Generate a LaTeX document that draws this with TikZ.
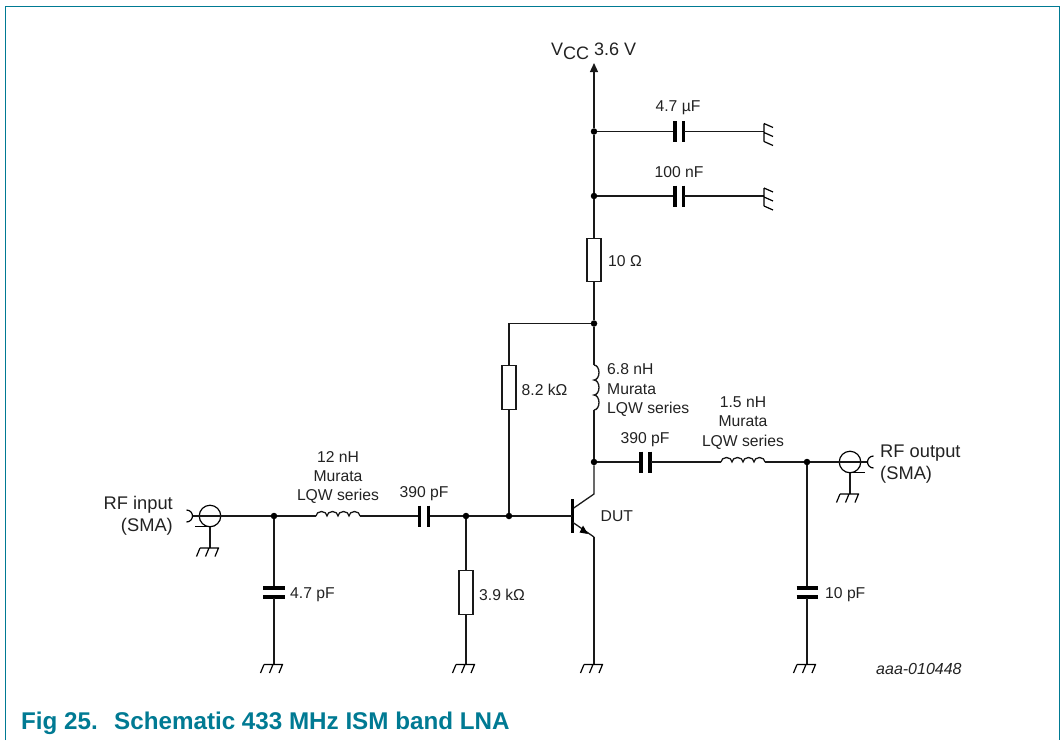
\documentclass[tikz,border=0pt]{standalone}
\usepackage{fontspec}
\setmainfont{Liberation Sans}
\usetikzlibrary{arrows.meta}
\definecolor{frameblue}{HTML}{007A93}
\definecolor{captionblue}{HTML}{007A93}
\definecolor{txt}{HTML}{222222}
\begin{document}
\begin{tikzpicture}[x=1pt,y=-1pt,
  wire/.style={line width=1.3pt,black!90},
  plate/.style={line width=3.6pt,black,line cap=butt},
  res/.style={draw=black!90,line width=1.05pt,fill=white,minimum width=14pt,minimum height=43.5pt,inner sep=0pt,outer sep=0pt},
  junc/.style={circle,fill=black,inner sep=0pt,minimum size=6.5pt,outer sep=0pt},
  lbl/.style={font=\fontsize{15.7}{19.3}\selectfont,text=txt,inner sep=0pt},
  big/.style={font=\fontsize{18.3}{22}\selectfont,text=txt,inner sep=0pt},
  gndl/.pic={\draw[line width=1.2pt] (-10,0)--(9,0) (-10,0)--(-13.5,8.5) (-1,0)--(-4.5,8.5) (8.5,0)--(5,8.5);},
]
\useasboundingbox (0,0) rectangle (1061,740);
\draw[frameblue,line width=1.3pt] (5.5,740)--(5.5,6.5)--(1059.5,6.5)--(1059.5,740);

% junctions
\node[junc] (j1) at (594,131.5) {};
\node[junc] (j2) at (594,196) {};
\node[junc] (j3) at (594,323.5) {};
\node[junc] (j4) at (594,462) {};
\node[junc] (j5) at (509,516) {};
\node[junc] (j6) at (466,516) {};
\node[junc] (j7) at (274,516) {};
\node[junc] (j8) at (807,462) {};

% VCC
\coordinate (vcc) at (594,63);
\draw[wire,-{Triangle[length=9pt,width=8pt]}] (j1) -- (vcc);
\node[big,anchor=base west,font=\fontsize{18}{22}\selectfont] (vl) at (551,55.5) {V\raisebox{-4pt}{CC} 3.6 V};

% decoupling caps
\coordinate (g1) at (764,131.5);
\coordinate (g2) at (764,196);
\foreach \n/\y/\g in {j1/131.5/g1,j2/196/g2}{
  \draw[wire] (\n) -- (674,\y);
  \draw[plate] (675,\y-10.5) -- (675,\y+10.5);
  \draw[plate] (683.5,\y-10.5) -- (683.5,\y+10.5);
  \draw[wire] (684,\y) -- (\g);
  \draw[line width=1.2pt] (764,\y-8) -- (764,\y+10) (764,\y-8) -- (773,\y-4) (764,\y+1) -- (773,\y+5) (764,\y+10) -- (773,\y+14);
}
\node[lbl] (c47u) at (678,108) {4.7 µF};
\node[lbl] (c100n) at (679,172) {100 nF};

% 10 ohm
\node[res] (r10) at (594,260) {};
\node[lbl,anchor=west] (r10l) at (608,261) {10 Ω};
\draw[wire] (j1) -- (j2);
\draw[wire] (j2) -- (r10);
\draw[wire] (r10) -- (j3);

% 8.2k
\node[res] (r82) at (509,387.5) {};
\node[lbl,anchor=west] (r82l) at (521.5,389.5) {8.2 kΩ};
\draw[wire] (j3) -- (509,323.5) -- (r82);
\draw[wire] (r82) -- (j5);

% L 6.8nH
\coordinate (l1a) at (594,365);
\coordinate (l1b) at (594,410);
\draw[wire] (j3) -- (l1a);
\draw[wire] (l1a) arc (-90:90:5 and 7.5) arc (-90:90:5 and 7.5) arc (-90:90:5 and 7.5);
\draw[wire] (l1b) -- (j4);
\node[lbl,anchor=west,align=left] (l1l) at (607,390) {6.8 nH\\Murata\\LQW series};

% Transistor
\coordinate (base) at (572,516);
\coordinate (cc) at (594,494);
\coordinate (ee) at (594,537);
\coordinate (gt) at (594,664);
\draw[wire] (j4) -- (cc) -- (573,508.5);
\draw[line width=2.6pt] (572.3,499) -- (572.3,533);
\draw[wire] (573,522.5) -- (ee);
\fill (588,534) -- (583,525.5) -- (579.5,532.5) -- cycle;
\draw[wire] (ee) -- (gt);
\draw[wire] (j5) -- (base);
\node[lbl,anchor=west] (dut) at (600.5,516.5) {DUT};

% output
\draw[wire] (j4) -- (639,462);
\draw[plate] (641,451.5) -- (641,472.5);
\draw[plate] (650,451.5) -- (650,472.5);
\node[lbl] (c390o) at (645,440) {390 pF};
\draw[wire] (651,462) -- (721,462);
\draw[wire] (721,462) arc (180:360:5.5 and 4.5) arc (180:360:5.5 and 4.5) arc (180:360:5.5 and 4.5) arc (180:360:5.5 and 4.5);
\draw[wire] (765,462) -- (j8);
\node[lbl,align=center] (l3l) at (743,423) {1.5 nH\\Murata\\LQW series};
\node[draw,circle,line width=1.2pt,minimum size=21.5pt,inner sep=0pt] (so) at (850,462) {};
\coordinate (so1) at (868,462);
\draw[wire] (j8) -- (so1);
\draw[line width=1.2pt] (873.5,456) arc (-90:-270:6);
\draw[line width=1.2pt] (850,472.5) -- (865,472.5);
\draw[wire] (850,472.5) -- (850,494);
\pic at (850,494) {gndl};
\node[big,anchor=west,align=left] (ol) at (880,464) {RF output\\(SMA)};

% 10 pF
\coordinate (c10a) at (807,588);
\draw[wire] (j8) -- (c10a);
\draw[plate] (796.5,588) -- (818,588);
\draw[plate] (796.5,597) -- (818,597);
\draw[wire] (807,598) -- (807,664);
\pic at (807,664.5) {gndl};
\node[lbl,anchor=west] (c10l) at (825,594.5) {10 pF};

% base network
\draw[wire] (j6) -- (j5);
\draw[wire] (429,516) -- (j6);
\draw[plate] (419.5,505.5) -- (419.5,526.5);
\draw[plate] (428.5,505.5) -- (428.5,526.5);
\node[lbl] (c390i) at (424,493.5) {390 pF};
\draw[wire] (j7) -- (316,516);
\draw[wire] (316,516) arc (180:360:5.5 and 4.5) arc (180:360:5.5 and 4.5) arc (180:360:5.5 and 4.5) arc (180:360:5.5 and 4.5);
\draw[wire] (360,516) -- (418,516);
\node[lbl,align=center] (l2l) at (338,477.5) {12 nH\\Murata\\LQW series};

% 3.9k
\node[res] (r39) at (466,592.5) {};
\node[lbl,anchor=west] (r39l) at (479,594.5) {3.9 kΩ};
\draw[wire] (j6) -- (r39);
\draw[wire] (r39) -- (466,664);
\pic at (466,664.5) {gndl};

% 4.7pF
\draw[wire] (j7) -- (274,588);
\draw[plate] (263,588) -- (285,588);
\draw[plate] (263,597) -- (285,597);
\draw[wire] (274,598) -- (274,664);
\pic at (274,664.5) {gndl};
\node[lbl,anchor=west] (c47p) at (290,594.5) {4.7 pF};

% transistor ground
\pic at (594,664.5) {gndl};

% input
\node[draw,circle,line width=1.2pt,minimum size=21.5pt,inner sep=0pt] (si) at (210,516) {};
\coordinate (si1) at (192,516);
\draw[wire] (si1) -- (j7);
\draw[line width=1.2pt] (186.5,510) arc (-90:90:6);
\draw[line width=1.2pt] (195,526.5) -- (210,526.5);
\draw[wire] (210,526.5) -- (210,548);
\pic at (210,548) {gndl};
\node[big,anchor=east,align=right] (il) at (173,516) {RF input\\(SMA)};

\node[anchor=base west,inner sep=0pt,font=\fontsize{16}{19}\selectfont\itshape,text=txt] (id) at (876,674) {aaa-010448};
\node[anchor=base west,inner sep=0pt,font=\fontsize{24.2}{28}\selectfont\bfseries,text=captionblue] (cap1) at (21,729.5) {Fig 25.};
\node[anchor=base west,inner sep=0pt,font=\fontsize{24.2}{28}\selectfont\bfseries,text=captionblue] (cap2) at (114,729.5) {Schematic 433 MHz ISM band LNA};
\end{tikzpicture}
\end{document}
